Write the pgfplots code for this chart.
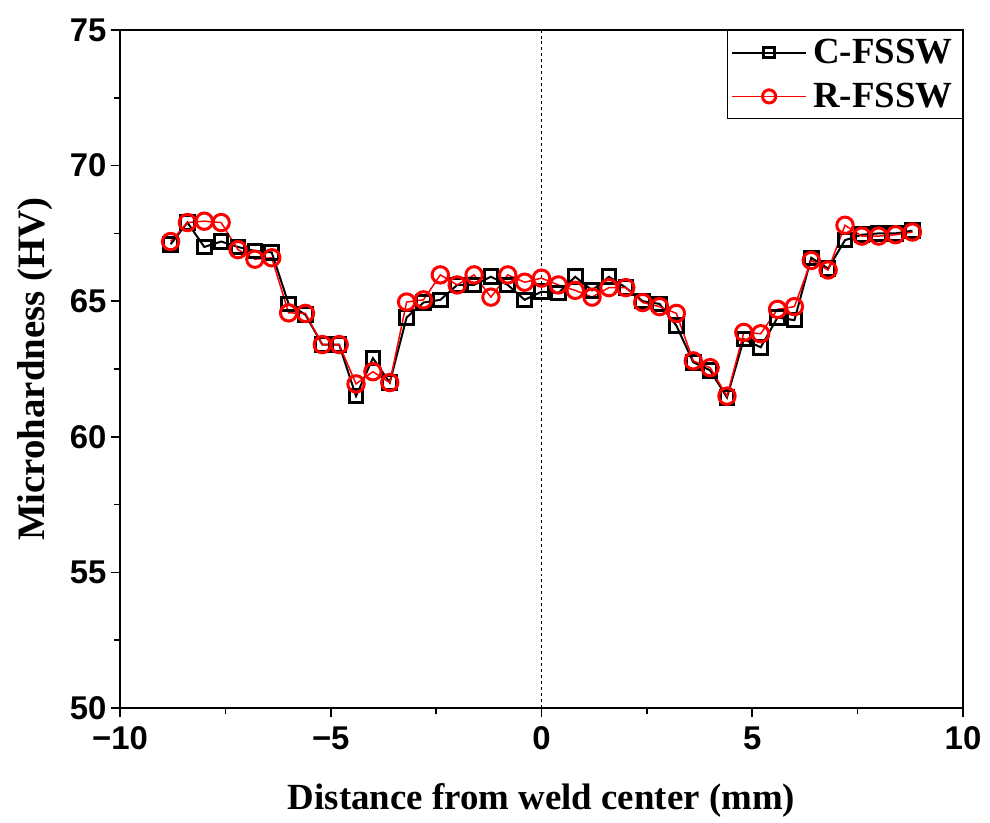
\documentclass[border=0pt]{standalone}
\usepackage{fontspec}
\setmainfont{Liberation Serif}
\newfontfamily\ticksf{Liberation Sans}
\usepackage{pgfplots}
\usepackage{pgfplotstable}
\pgfplotsset{compat=1.18}
\pgfplotstableread{
x y
-8.8 67.1
-8.4 67.9
-8.0 67.0
-7.6 67.2
-7.2 67.0
-6.8 66.85
-6.4 66.8
-6.0 64.9
-5.6 64.5
-5.2 63.4
-4.8 63.4
-4.4 61.5
-4.0 62.9
-3.6 62.0
-3.2 64.4
-2.8 64.95
-2.4 65.05
-2.0 65.6
-1.6 65.6
-1.2 65.9
-0.8 65.6
-0.4 65.05
0.0 65.35
0.4 65.3
0.8 65.9
1.2 65.4
1.6 65.9
2.0 65.5
2.4 65.0
2.8 64.9
3.2 64.1
3.6 62.75
4.0 62.45
4.4 61.45
4.8 63.6
5.2 63.3
5.6 64.4
6.0 64.3
6.4 66.6
6.8 66.2
7.2 67.25
7.6 67.45
8.0 67.5
8.4 67.5
8.8 67.6
}\cfssw
\pgfplotstableread{
x y
-8.8 67.2
-8.4 67.9
-8.0 67.95
-7.6 67.9
-7.2 66.9
-6.8 66.55
-6.4 66.6
-6.0 64.57
-5.6 64.55
-5.2 63.4
-4.8 63.4
-4.4 61.95
-4.0 62.4
-3.6 62.0
-3.2 64.97
-2.8 65.05
-2.4 65.97
-2.0 65.6
-1.6 65.97
-1.2 65.15
-0.8 65.97
-0.4 65.7
0.0 65.85
0.4 65.6
0.8 65.4
1.2 65.15
1.6 65.5
2.0 65.5
2.4 64.95
2.8 64.8
3.2 64.55
3.6 62.8
4.0 62.55
4.4 61.5
4.8 63.85
5.2 63.8
5.6 64.7
6.0 64.8
6.4 66.5
6.8 66.15
7.2 67.8
7.6 67.4
8.0 67.4
8.4 67.45
8.8 67.55
}\rfssw
\begin{document}
\begin{tikzpicture}
\useasboundingbox (-120bp,-115bp) rectangle (870bp,708bp);
\begin{axis}[
  at={(0,0)}, anchor=south west,
  scale only axis, width=843bp, height=678bp,
  xmin=-10, xmax=10, ymin=50, ymax=75,
  xtick={-10,-5,0,5,10}, xticklabels={−10,−5,0,5,10},
  ytick={50,55,60,65,70,75}, yticklabels={50,55,60,65,70,75},
  minor x tick num=1, minor y tick num=1,
  tick align=outside, xtick pos=bottom, ytick pos=left,
  major tick length=9bp, minor tick length=6bp,
  every tick/.style={line width=1.6bp, black},
  axis line style={line width=1.6bp},
  tick label style={font=\ticksf\bfseries\fontsize{33}{38}\selectfont},
  xticklabel style={yshift=-6bp},
  yticklabel style={xshift=-1bp},
  xlabel={Distance from weld center (mm)}, ylabel={Microhardness (HV)},
  xlabel style={font=\bfseries\fontsize{37}{42}\selectfont, at={(axis description cs:0.5,-0.1357)}, anchor=center},
  ylabel style={font=\bfseries\fontsize{39}{44}\selectfont, at={(axis description cs:-0.1008,0.5)}, anchor=center},
  legend style={at={(1,1)}, anchor=north east, draw=black, line width=1.2bp,
    font=\bfseries\fontsize{37}{42}\selectfont, inner xsep=4bp, inner ysep=7bp,
    row sep=14bp, nodes={inner xsep=6bp}},
  legend cell align=left,
  legend image code/.code={\draw[mark repeat=2,mark phase=2, every mark/.append style={scale=0.8}] plot coordinates {(0bp,0bp) (37bp,0bp) (74bp,0bp)};},
]
\addplot[black, dashed, line width=0.9bp, forget plot] coordinates {(0,50) (0,75)};
\addplot[black, line width=2bp, mark=square, mark size=6.8bp, mark options={line width=3bp, solid}] table {\cfssw};
\addlegendentry{C-FSSW}
\addplot[red, line width=1.5bp, mark=o, mark size=8.2bp, mark options={line width=3bp, solid}] table {\rfssw};
\addlegendentry{R-FSSW}
\end{axis}
\end{tikzpicture}
\end{document}
